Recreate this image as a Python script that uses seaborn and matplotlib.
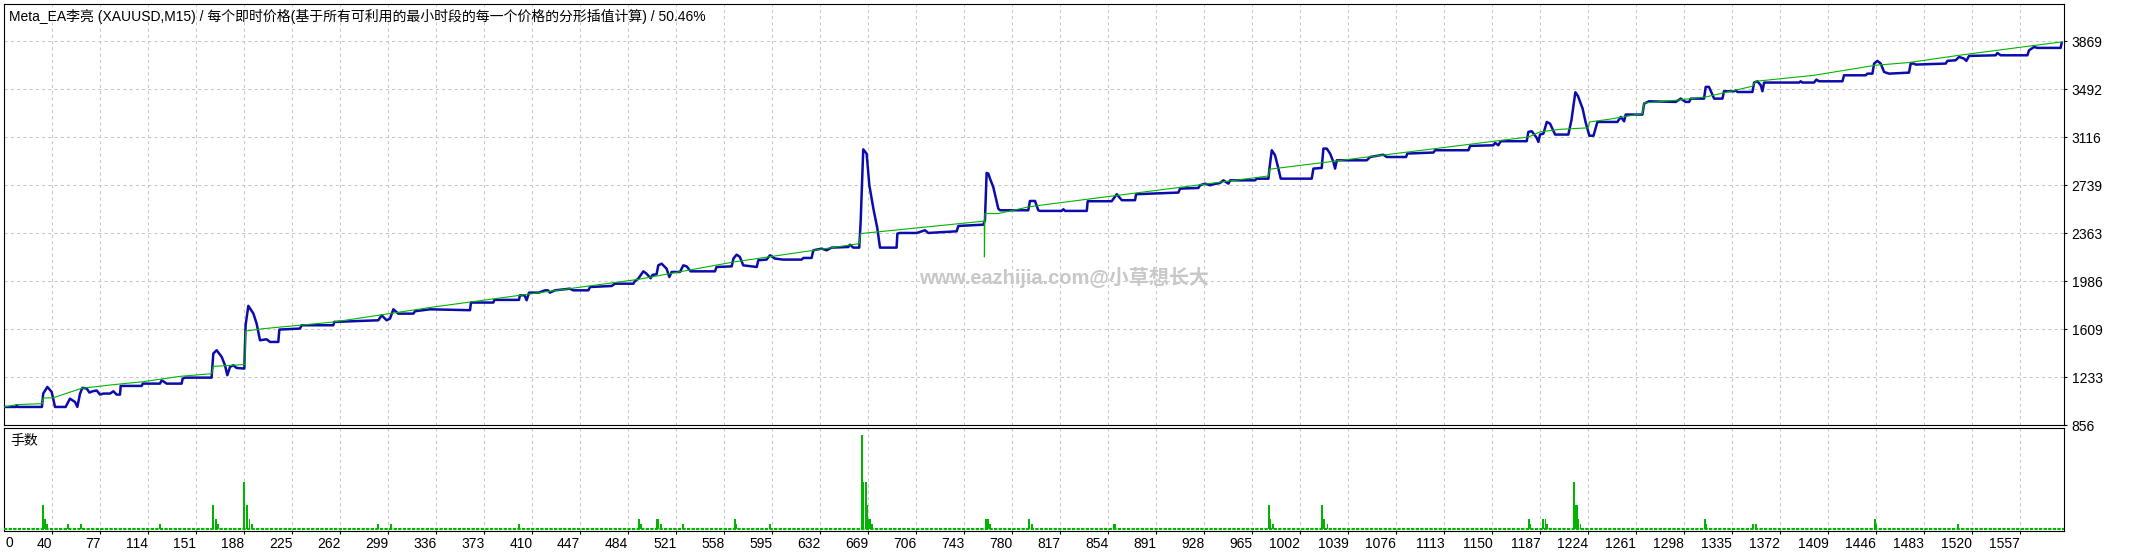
import matplotlib
matplotlib.use("Agg")
import matplotlib.pyplot as plt
import seaborn as sns
import pandas as pd

# ---------------- data ----------------
title = "Meta_EA李亮 (XAUUSD,M15) / 每个即时价格(基于所有可利用的最小时段的每一个价格的分形插值计算) / 50.46%"
volume_label = "手数"
watermark = "www.eazhijia.com@小草想长大"

equity_trade = [3, 12, 12.5, 13.5, 32, 33, 36.2, 39.5, 42.1, 50.3, 53.6, 57.5, 59.3, 61.4, 63.2, 66.5, 68.6,
                71.1, 74.2, 76.8, 79.3, 84.5, 87.1, 89.6, 92.2, 92.7, 108.9, 109.7, 123, 124.3, 128.2, 139.7,
                140.5, 142.3, 162.8, 164.1, 166.7, 170.6, 173.1, 174.9, 177, 179.5, 182.1, 188, 189, 191.1,
                195, 197.5, 200.1, 205.2, 207.8, 214.2, 215, 230.9, 232.2, 256.6, 257.4, 291.3, 293.9, 297.7,
                300.3, 302.9, 306.7, 318.3, 319.6, 331.1, 362, 362.7, 380, 380.7, 399.7, 400.5,
                404, 405.6, 407.5, 415, 419.8, 422, 423.6, 427.5, 439, 441.5, 453.2, 454.5, 471.2, 473.7,
                487.9, 489, 491.7, 495.6, 498, 501.2, 502.7, 505.8, 507.1, 509.7, 513.5, 515.6, 517.4, 523.8,
                526.4, 529, 532, 550.8, 552, 563.7, 565, 567.5, 570, 572.6, 583, 584.2, 590.6, 593.2, 597,
                603.5, 617.6, 619, 625.3, 626.6, 633, 636.9, 640.7, 653.6, 654.9, 657.4, 662, 663.1, 665.1,
                667.7, 669.8, 672.9, 674.5, 676, 678, 690.8, 691.4, 693.4, 706.3, 712.7, 715.2, 737.1, 738.4,
                757.6, 758.9, 760.2, 761.5, 762.8, 765.3, 769.2, 770.5, 792.3, 793.6, 797.5, 800,
                801.4, 818, 819.4, 820.7, 837.4, 838.1, 856.6, 860.5, 864.4, 874.6, 875.4, 908, 909.3, 923.4,
                924.7, 928.6, 932.4, 935, 940.1, 942.7, 946.6, 947.9, 967.1, 968.4, 977.4, 978.2, 980, 982.5,
                985.1, 986.9, 1010.8, 1012.1, 1018.5, 1019.8, 1022.4, 1025, 1027.5, 1028.8, 1030.1, 1053.2,
                1055.8, 1063.5, 1066, 1068.6, 1083.5, 1084.5, 1104.6, 1105.9, 1131.6, 1132.9, 1150.8, 1152.2,
                1154.6, 1156.5, 1176.5, 1177.8, 1180.4, 1184.2, 1185.5, 1186.8, 1189.4, 1192, 1194.5, 1198.4,
                1202.2, 1208.6, 1211, 1214, 1216, 1219.6, 1222, 1224.8, 1228, 1231,
                1240, 1246.4, 1249, 1251.6, 1252.8, 1265.7, 1267, 1270.8, 1291.4, 1295.2, 1299, 1301.7, 1303,
                1313.2, 1314.5, 1317, 1321, 1327.4, 1328.6, 1336.4, 1337.7, 1338.9, 1350.5, 1351.8, 1354.3,
                1356.9, 1358.2, 1359.5, 1386.5, 1387.7, 1389, 1398, 1399.8, 1401.9, 1419.9, 1421.1, 1437.8,
                1439.1, 1443, 1444.3, 1446.8, 1449.4, 1452, 1455.8, 1471.2, 1472.5, 1475, 1476.4, 1499.5,
                1500.8, 1507.2, 1509.8, 1513.6, 1515.4, 1517.5, 1538, 1539.3, 1541.9, 1562.5, 1563.7, 1567.6,
                1570.2, 1588.1, 1588.9]
equity_value = [1000, 1000, 1013, 1000, 1000, 1105, 1157, 1118, 1000, 1000, 1065, 1039, 1000, 1105, 1150, 1145, 1113,
                1123, 1129, 1097, 1105, 1105, 1123, 1097, 1097, 1165, 1165, 1183, 1183, 1209, 1183, 1183,
                1222, 1230, 1230, 1419, 1445, 1392, 1327, 1249, 1314, 1327, 1306, 1301, 1641, 1793,
                1733, 1654, 1523, 1531, 1510, 1510, 1607, 1615, 1641, 1641, 1667, 1680, 1719, 1680,
                1693, 1766, 1732, 1732, 1751, 1766, 1759, 1819, 1819, 1840, 1840, 1876,
                1876, 1837, 1897, 1897, 1915, 1915, 1897, 1915, 1928, 1915, 1915, 1941, 1949, 1967,
                1967, 1986, 2007, 2064, 2046, 2010, 2036, 2041, 2111, 2124, 2085, 2020, 2059, 2059,
                2111, 2103, 2064, 2064, 2098, 2103, 2164, 2195, 2177, 2111, 2098, 2151, 2156, 2190, 2164,
                2156, 2156, 2169, 2169, 2229, 2242, 2229, 2250, 2255, 2273, 2250, 2250, 2451, 3021,
                2987, 2739, 2556, 2477, 2399, 2250, 2250, 2360, 2365, 2365, 2386, 2365, 2378, 2420,
                2430, 2464, 2836, 2831, 2791, 2726, 2556, 2543, 2543, 2616, 2616, 2543,
                2538, 2538, 2551, 2538, 2538, 2614, 2614, 2669, 2622, 2622, 2669, 2682, 2713, 2718,
                2739, 2752, 2739, 2747, 2757, 2778, 2752, 2778, 2778, 2791, 2791, 2870, 3014, 2975,
                2870, 2791, 2791, 2870, 2875, 3027, 3027, 2987, 2922, 2870, 2935, 2935,
                2961, 2974, 2979, 2961, 2961, 2988, 2996, 3014, 3014, 3048, 3053, 3072,
                3053, 3085, 3085, 3158, 3163, 3111, 3079, 3137, 3145, 3236, 3223, 3137,
                3137, 3137, 3250, 3469, 3440, 3341, 3230, 3128, 3128, 3236,
                3236, 3236, 3275, 3241, 3294, 3294, 3380, 3398, 3393, 3419, 3393, 3393, 3419,
                3419, 3511, 3511, 3419, 3419, 3477, 3477, 3484, 3471, 3471, 3545, 3555,
                3524, 3477, 3545, 3545, 3555, 3545, 3545, 3568, 3555, 3555, 3602, 3602,
                3615, 3615, 3694, 3715, 3694, 3628, 3615, 3623, 3694, 3694, 3686, 3694,
                3715, 3720, 3746, 3733, 3715, 3754, 3759, 3777, 3759, 3759, 3798, 3824,
                3817, 3817, 3859]

balance_trade = [3, 12.5, 32.3, 33, 40.8, 51, 62.6, 84.5, 110, 138.4, 162.9, 164, 188.5, 189, 202.7, 256.6,
                 291.3, 333.7, 400.5, 491.7, 565, 662, 663, 757.6, 758.4, 758.5, 758.9, 769.2, 792.3, 801.4,
                 977.4, 978.2, 1177.8, 1186.8, 1202.2, 1224, 1225, 1240, 1265.7, 1267, 1291.4, 1314.5,
                 1350.5, 1353, 1398, 1445.5, 1471, 1509.8, 1558.6, 1588.9]
balance_value = [1000, 1018, 1026, 1070, 1072, 1107, 1146, 1172, 1198, 1240, 1261, 1318, 1333, 1596, 1614, 1666,
                 1719, 1784, 1876, 2001, 2137, 2281, 2360, 2457, 2457, 2177, 2517, 2517, 2569, 2582,
                 2812, 2865, 3118, 3158, 3178, 3190, 3236, 3257, 3301, 3385, 3406, 3432,
                 3516, 3555, 3602, 3681, 3702, 3759, 3824, 3864]

lot_trade = [33, 34.5, 36, 52, 62, 123, 164, 166, 168, 188, 190, 192, 194, 291, 301, 400,
             492, 494, 506, 507, 509, 526, 566, 567, 593, 664, 665, 667, 668, 669, 670, 672,
             760, 761, 763, 793, 795, 858, 859, 978, 979, 981, 1019, 1020, 1023,
             1178, 1179, 1189, 1191, 1192, 1213, 1214, 1215, 1216, 1218,
             1314, 1315, 1351, 1353, 1445, 1446, 1509]
lot_size = [0.05, 0.02, 0.01, 0.01, 0.01, 0.01, 0.05, 0.02, 0.01, 0.10, 0.05, 0.02, 0.01, 0.01, 0.01, 0.01,
            0.02, 0.01, 0.02, 0.02, 0.01, 0.01, 0.02, 0.01, 0.01, 0.20, 0.10, 0.10, 0.05, 0.02, 0.02, 0.01,
            0.02, 0.02, 0.01, 0.02, 0.01, 0.01, 0.01, 0.05, 0.02, 0.01, 0.05, 0.02, 0.01,
            0.02, 0.01, 0.02, 0.02, 0.01, 0.10, 0.05, 0.05, 0.02, 0.01,
            0.02, 0.01, 0.01, 0.01, 0.02, 0.01, 0.01]

x_ticks = [40, 77, 114, 151, 188, 225, 262, 299, 336, 373, 410, 447, 484, 521, 558, 595, 632, 669, 706, 743,
           780, 817, 854, 891, 928, 965, 1002, 1039, 1076, 1113, 1150, 1187, 1224, 1261, 1298, 1335, 1372,
           1409, 1446, 1483, 1520, 1557]
x_first_label = "0"
y_ticks = [856, 1233, 1609, 1986, 2363, 2739, 3116, 3492, 3869]

# ---------------- style ----------------
sns.set_theme(style="white")
plt.rcParams["font.family"] = ["Liberation Sans", "Noto Sans CJK SC", "DejaVu Sans"]
plt.rcParams["axes.unicode_minus"] = False

BLUE = "#0c0cac"
GREEN = "#00b400"
GRID = "#c8c8c8"
FS = 10

W, H = 2129, 554
fig = plt.figure(figsize=(W / 100, H / 100), dpi=100)
fig.patch.set_facecolor("white")


def box(l, t, r, b):
    return [l / W, 1 - b / H, (r - l) / W, (b - t) / H]


ax = fig.add_axes(box(4.3, 4.3, 2064.3, 425.3))
axv = fig.add_axes(box(4.3, 428, 2064.3, 531), sharex=ax)

eq = pd.DataFrame({"trade": equity_trade, "value": equity_value})
bal = pd.DataFrame({"trade": balance_trade, "value": balance_value})

sns.lineplot(data=eq, x="trade", y="value", ax=ax, sort=False, estimator=None,
             color=BLUE, linewidth=1.8, zorder=3)
sns.lineplot(data=bal, x="trade", y="value", ax=ax, sort=False, estimator=None,
             color=GREEN, linewidth=0.8, zorder=4)

axv.bar(lot_trade, lot_size, width=1.4, color=GREEN, linewidth=0, zorder=3)
axv.axhline(0, color=GREEN, linewidth=1.5, linestyle=(0, (1.6, 0.6)), zorder=3)

ax.set_xlim(3.0, 1590.9)
ax.set_ylim(856, 4159)
axv.set_ylim(-0.0049, 0.2156)

for a in (ax, axv):
    a.set_facecolor("white")
    for s in a.spines.values():
        s.set_color("black")
        s.set_linewidth(0.8)
        s.set_visible(True)
    a.set_xlabel("")
    a.set_ylabel("")
    a.set_axisbelow(True)
    a.set_xticks(x_ticks)

ax.grid(True, axis="both", color=GRID, linestyle=(0, (3, 3)), linewidth=0.75)
axv.grid(True, axis="x", color=GRID, linestyle=(0, (3, 3)), linewidth=0.75)

ax.yaxis.tick_right()
ax.set_yticks(y_ticks)
ax.set_yticklabels([str(v) for v in y_ticks])
ax.tick_params(axis="y", which="both", right=True, left=False, length=2.2, width=0.8,
               pad=3.0, labelsize=FS, colors="black")
ax.tick_params(axis="x", bottom=False, labelbottom=False)

axv.set_yticks([])
axv.tick_params(axis="x", bottom=True, length=2.2, width=0.8, pad=2.0, labelsize=FS, colors="black")
axv.set_xticklabels([str(v) for v in x_ticks], ha="right")
for lbl in axv.get_xticklabels():
    lbl.set_horizontalalignment("right")

fig.text(6 / W, 1 - 542.7 / H, x_first_label, ha="left", va="center", fontsize=FS, color="black")
fig.text(9 / W, 1 - 16 / H, title, ha="left", va="center", fontsize=10.0, color="black")
fig.text(10 / W, 1 - 441 / H, volume_label, ha="left", va="center", fontsize=FS, color="black")
fig.text(1064 / W, 1 - 277 / H, watermark, ha="center", va="center", fontsize=14.4,
         fontweight="bold", color="#c8c8c8")

fig.savefig("out.png", dpi=100, facecolor="white")
